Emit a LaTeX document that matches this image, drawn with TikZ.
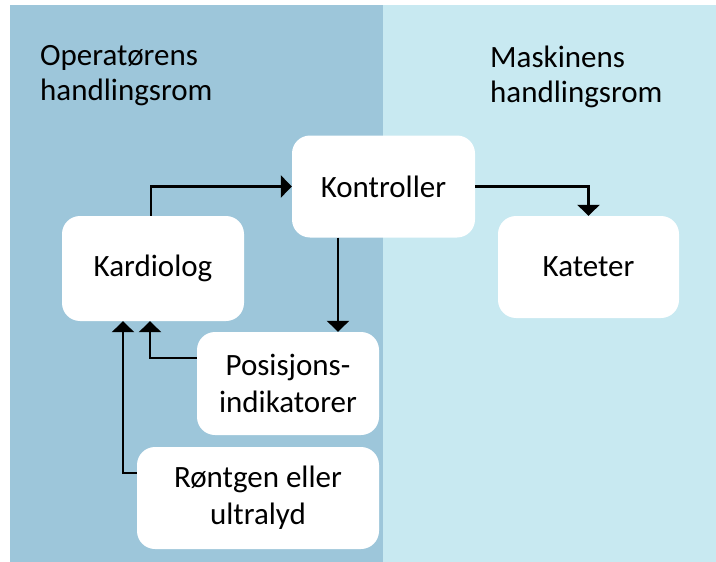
\documentclass[tikz,border=0pt]{standalone}
\usepackage{fontspec}
\setmainfont{Carlito}
\usetikzlibrary{arrows.meta,calc}
\definecolor{opblue}{RGB}{157,198,218}
\definecolor{maskblue}{RGB}{200,233,241}
\begin{document}
\begin{tikzpicture}[x=1pt,y=-1pt,
  box/.style={fill=white,rounded corners=18pt,align=center,inner sep=0pt,
    font=\fontsize{31}{37}\selectfont},
  title/.style={align=left,inner sep=0pt,anchor=north west,
    font=\fontsize{31}{35}\selectfont},
  flow/.style={line width=2.7pt,-{Triangle[length=11pt,width=22pt]}}]
\useasboundingbox (0,0) rectangle (716,562);
% the two workspaces
\fill[opblue] (10,5) rectangle (383,562);
\fill[maskblue] (383,5) rectangle (716,562);
\node[title] (optitle) at (40,45.5) {Operatørens\\handlingsrom};
\node[title] (masktitle) at (490,45.5) {Maskinens\\handlingsrom};
% blocks
\node[box,minimum width=183pt,minimum height=102pt] (kontr) at (383.5,186.5) {Kontroller};
\node[box,minimum width=181pt,minimum height=102pt] (kat) at (588.5,267) {Kateter};
\node[box,minimum width=182pt,minimum height=105pt] (kard) at (153,268.5) {Kardiolog};
\node[box,minimum width=182pt,minimum height=103pt] (posi) at (288,383.5) {Posisjons-\\indikatorer};
\node[box,minimum width=242pt,minimum height=102pt] (rong) at (258,498) {Røntgen eller\\ultralyd};
% connectors
\draw[flow] ($(kard.north)+(-2,0)$) |- (kontr.west);
\draw[flow] ($(kontr.south)+(-45.5,0)$) coordinate (ks) -- (ks |- posi.north);
\draw[flow] (kontr.east) -| (kat.north);
\draw[flow] ($(posi.west)+(0,-25.5)$) -| ($(kard.south)+(-3,0)$);
\draw[flow] ($(rong.west)+(0,-25)$) -| ($(kard.south)+(-30,0)$);
\end{tikzpicture}
\end{document}
